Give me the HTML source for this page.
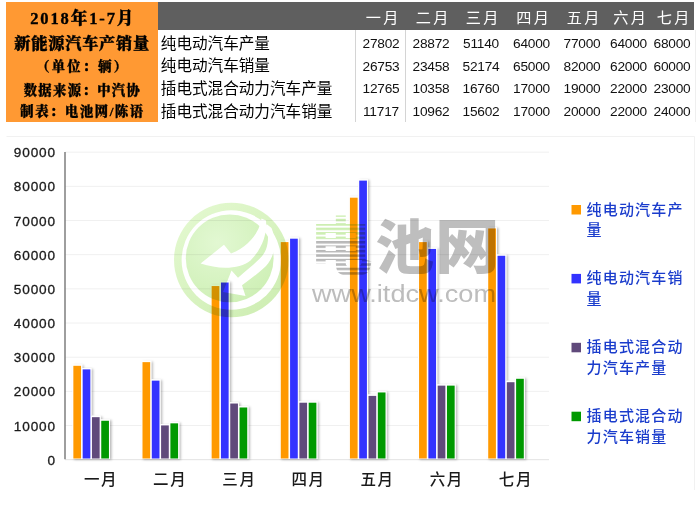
<!DOCTYPE html><html lang="zh"><head><meta charset="utf-8"><title>2018年1-7月新能源汽车产销量</title><style>
html,body{margin:0;padding:0;background:#fff;}
body{width:700px;height:507px;position:relative;overflow:hidden;font-family:"Liberation Sans","Noto Sans CJK SC",sans-serif;}
#ob{position:absolute;left:6px;top:2px;width:151.5px;height:119.5px;background:#FF9933;}
#ob div{position:absolute;left:0;width:100%;text-align:center;font-family:"Liberation Serif","Noto Serif CJK SC",serif;font-weight:900;color:#000;-webkit-text-stroke:0.35px #000;white-space:nowrap;}
#hd{position:absolute;left:157.5px;top:2px;width:536px;height:27.5px;background:#5F5F5F;}
.hm{position:absolute;top:8px;width:40px;margin-left:-20px;text-align:center;color:#fff;font-size:15.2px;letter-spacing:2.4px;text-indent:2.4px;line-height:20px;white-space:nowrap;}
.rn{position:absolute;left:160.8px;font-size:15.6px;line-height:22px;color:#000;white-space:nowrap;font-family:"Liberation Sans","Noto Sans CJK SC",sans-serif;font-weight:400;}
.nv{position:absolute;width:50px;margin-left:-25px;text-align:center;font-size:13.7px;letter-spacing:-0.2px;line-height:22px;color:#111;white-space:nowrap;}
.vl{position:absolute;top:29.5px;width:1px;height:92px;background:#d4d4d4;}
svg{position:absolute;left:0;top:0;}
</style></head><body>
<div id="ob">
<div style="top:6.5px;font-size:16.5px;line-height:20px;letter-spacing:1.9px;text-indent:1.9px;">2018年1-7月</div>
<div style="top:31.2px;font-size:16.2px;line-height:22px;letter-spacing:0.8px;text-indent:0.8px;">新能源汽车产销量</div>
<div style="top:56px;font-size:13.3px;line-height:18px;letter-spacing:2.2px;text-indent:2.2px;">（单位：辆）</div>
<div style="top:79.7px;font-size:13.3px;line-height:18px;letter-spacing:1.4px;text-indent:1.4px;">数据来源：中汽协</div>
<div style="top:101.2px;font-size:13.3px;line-height:18px;letter-spacing:1.6px;text-indent:1.6px;">制表：电池网/陈语</div>
</div>
<div id="hd"></div>
<div class="hm" style="left:382.2px">一月</div>
<div class="hm" style="left:432.2px">二月</div>
<div class="hm" style="left:482.2px">三月</div>
<div class="hm" style="left:532.7px">四月</div>
<div class="hm" style="left:583.2px">五月</div>
<div class="hm" style="left:629.7px">六月</div>
<div class="hm" style="left:673.2px">七月</div>
<div class="rn" style="top:32.5px">纯电动汽车产量</div>
<div class="nv" style="left:381px;top:32.8px">27802</div>
<div class="nv" style="left:431px;top:32.8px">28872</div>
<div class="nv" style="left:481px;top:32.8px">51140</div>
<div class="nv" style="left:531.5px;top:32.8px">64000</div>
<div class="nv" style="left:582px;top:32.8px">77000</div>
<div class="nv" style="left:628.5px;top:32.8px">64000</div>
<div class="nv" style="left:672px;top:32.8px">68000</div>
<div class="rn" style="top:55.2px">纯电动汽车销量</div>
<div class="nv" style="left:381px;top:55.5px">26753</div>
<div class="nv" style="left:431px;top:55.5px">23458</div>
<div class="nv" style="left:481px;top:55.5px">52174</div>
<div class="nv" style="left:531.5px;top:55.5px">65000</div>
<div class="nv" style="left:582px;top:55.5px">82000</div>
<div class="nv" style="left:628.5px;top:55.5px">62000</div>
<div class="nv" style="left:672px;top:55.5px">60000</div>
<div class="rn" style="top:77.9px">插电式混合动力汽车产量</div>
<div class="nv" style="left:381px;top:78.2px">12765</div>
<div class="nv" style="left:431px;top:78.2px">10358</div>
<div class="nv" style="left:481px;top:78.2px">16760</div>
<div class="nv" style="left:531.5px;top:78.2px">17000</div>
<div class="nv" style="left:582px;top:78.2px">19000</div>
<div class="nv" style="left:628.5px;top:78.2px">22000</div>
<div class="nv" style="left:672px;top:78.2px">23000</div>
<div class="rn" style="top:100.6px">插电式混合动力汽车销量</div>
<div class="nv" style="left:381px;top:100.9px">11717</div>
<div class="nv" style="left:431px;top:100.9px">10962</div>
<div class="nv" style="left:481px;top:100.9px">15602</div>
<div class="nv" style="left:531.5px;top:100.9px">17000</div>
<div class="nv" style="left:582px;top:100.9px">20000</div>
<div class="nv" style="left:628.5px;top:100.9px">22000</div>
<div class="nv" style="left:672px;top:100.9px">24000</div>
<div class="vl" style="left:355px"></div><div class="vl" style="left:405px"></div><div class="vl" style="left:695px;background:#efefef"></div>
<svg width="700" height="507" viewBox="0 0 700 507">
<defs><filter id="sh" x="-50%" y="-10%" width="220%" height="120%"><feDropShadow dx="1.6" dy="0.8" stdDeviation="1.1" flood-color="#000" flood-opacity="0.28"/></filter><filter id="sb" x="-5%" y="-5%" width="110%" height="110%"><feGaussianBlur stdDeviation="0.45"/></filter><radialGradient id="lg" cx="0.36" cy="0.32" r="0.8"><stop offset="0" stop-color="#e2f8d2"/><stop offset="1" stop-color="#cdefb4"/></radialGradient><linearGradient id="rg" x1="0.15" y1="0.1" x2="0.85" y2="0.9"><stop offset="0" stop-color="#e2f8ce"/><stop offset="1" stop-color="#cfeeb4"/></linearGradient><pattern id="stp" x="0" y="214.3" width="10" height="4.45" patternUnits="userSpaceOnUse"><rect x="0" y="0" width="10" height="2.5" fill="#fff"/></pattern><linearGradient id="eg" gradientUnits="userSpaceOnUse" x1="0" y1="214" x2="0" y2="274"><stop offset="0" stop-color="#cdeeb2"/><stop offset="0.44" stop-color="#cdeeb2"/><stop offset="0.45" stop-color="#b8b8b8"/><stop offset="1" stop-color="#b8b8b8"/></linearGradient><mask id="stm" maskUnits="userSpaceOnUse" x="300" y="200" width="90" height="90"><rect x="300" y="200" width="90" height="90" fill="url(#stp)"/></mask></defs>
<path d="M6.5 136.5H694.5V490" fill="none" stroke="#f1f1f1" stroke-width="1"/>
<line x1="65.0" x2="549.0" y1="425.53" y2="425.53" stroke="#f0f0f0" stroke-width="1"/>
<line x1="65.0" x2="549.0" y1="391.36" y2="391.36" stroke="#f0f0f0" stroke-width="1"/>
<line x1="65.0" x2="549.0" y1="357.19" y2="357.19" stroke="#f0f0f0" stroke-width="1"/>
<line x1="65.0" x2="549.0" y1="323.02" y2="323.02" stroke="#f0f0f0" stroke-width="1"/>
<line x1="65.0" x2="549.0" y1="288.85" y2="288.85" stroke="#f0f0f0" stroke-width="1"/>
<line x1="65.0" x2="549.0" y1="254.68" y2="254.68" stroke="#f0f0f0" stroke-width="1"/>
<line x1="65.0" x2="549.0" y1="220.51" y2="220.51" stroke="#f0f0f0" stroke-width="1"/>
<line x1="65.0" x2="549.0" y1="186.34" y2="186.34" stroke="#f0f0f0" stroke-width="1"/>
<line x1="65.0" x2="549.0" y1="152.17" y2="152.17" stroke="#f0f0f0" stroke-width="1"/>
<line x1="65.0" x2="549.0" y1="459.7" y2="459.7" stroke="#e2e2e2" stroke-width="1"/>
<line x1="65.0" x2="65.0" y1="152" y2="459.2" stroke="#757575" stroke-width="1.4"/>
<text x="55.9" y="464.70" text-anchor="end" font-size="13.6" letter-spacing="0.85" fill="#1a1a1a" stroke="#1a1a1a" stroke-width="0.3" font-family="Liberation Sans, sans-serif">0</text>
<text x="55.9" y="430.53" text-anchor="end" font-size="13.6" letter-spacing="0.85" fill="#1a1a1a" stroke="#1a1a1a" stroke-width="0.3" font-family="Liberation Sans, sans-serif">10000</text>
<text x="55.9" y="396.36" text-anchor="end" font-size="13.6" letter-spacing="0.85" fill="#1a1a1a" stroke="#1a1a1a" stroke-width="0.3" font-family="Liberation Sans, sans-serif">20000</text>
<text x="55.9" y="362.19" text-anchor="end" font-size="13.6" letter-spacing="0.85" fill="#1a1a1a" stroke="#1a1a1a" stroke-width="0.3" font-family="Liberation Sans, sans-serif">30000</text>
<text x="55.9" y="328.02" text-anchor="end" font-size="13.6" letter-spacing="0.85" fill="#1a1a1a" stroke="#1a1a1a" stroke-width="0.3" font-family="Liberation Sans, sans-serif">40000</text>
<text x="55.9" y="293.85" text-anchor="end" font-size="13.6" letter-spacing="0.85" fill="#1a1a1a" stroke="#1a1a1a" stroke-width="0.3" font-family="Liberation Sans, sans-serif">50000</text>
<text x="55.9" y="259.68" text-anchor="end" font-size="13.6" letter-spacing="0.85" fill="#1a1a1a" stroke="#1a1a1a" stroke-width="0.3" font-family="Liberation Sans, sans-serif">60000</text>
<text x="55.9" y="225.51" text-anchor="end" font-size="13.6" letter-spacing="0.85" fill="#1a1a1a" stroke="#1a1a1a" stroke-width="0.3" font-family="Liberation Sans, sans-serif">70000</text>
<text x="55.9" y="191.34" text-anchor="end" font-size="13.6" letter-spacing="0.85" fill="#1a1a1a" stroke="#1a1a1a" stroke-width="0.3" font-family="Liberation Sans, sans-serif">80000</text>
<text x="55.9" y="157.17" text-anchor="end" font-size="13.6" letter-spacing="0.85" fill="#1a1a1a" stroke="#1a1a1a" stroke-width="0.3" font-family="Liberation Sans, sans-serif">90000</text>
<g filter="url(#sh)">
<rect x="72.30" y="364.50" width="9.80" height="94.50" fill="#fff"/>
<rect x="81.60" y="368.08" width="9.80" height="90.92" fill="#fff"/>
<rect x="90.90" y="415.88" width="9.80" height="43.12" fill="#fff"/>
<rect x="100.20" y="419.46" width="9.80" height="39.54" fill="#fff"/>
<rect x="141.44" y="360.84" width="9.80" height="98.16" fill="#fff"/>
<rect x="150.74" y="379.34" width="9.80" height="79.66" fill="#fff"/>
<rect x="160.04" y="424.11" width="9.80" height="34.89" fill="#fff"/>
<rect x="169.34" y="422.04" width="9.80" height="36.96" fill="#fff"/>
<rect x="210.59" y="284.75" width="9.80" height="174.25" fill="#fff"/>
<rect x="219.89" y="281.22" width="9.80" height="177.78" fill="#fff"/>
<rect x="229.19" y="402.23" width="9.80" height="56.77" fill="#fff"/>
<rect x="238.49" y="406.19" width="9.80" height="52.81" fill="#fff"/>
<rect x="279.73" y="240.81" width="9.80" height="218.19" fill="#fff"/>
<rect x="289.03" y="237.39" width="9.80" height="221.61" fill="#fff"/>
<rect x="298.33" y="401.41" width="9.80" height="57.59" fill="#fff"/>
<rect x="307.63" y="401.41" width="9.80" height="57.59" fill="#fff"/>
<rect x="348.87" y="196.39" width="9.80" height="262.61" fill="#fff"/>
<rect x="358.17" y="179.31" width="9.80" height="279.69" fill="#fff"/>
<rect x="367.47" y="394.58" width="9.80" height="64.42" fill="#fff"/>
<rect x="376.77" y="391.16" width="9.80" height="67.84" fill="#fff"/>
<rect x="418.01" y="240.81" width="9.80" height="218.19" fill="#fff"/>
<rect x="427.31" y="247.65" width="9.80" height="211.35" fill="#fff"/>
<rect x="436.61" y="384.33" width="9.80" height="74.67" fill="#fff"/>
<rect x="445.91" y="384.33" width="9.80" height="74.67" fill="#fff"/>
<rect x="487.16" y="227.14" width="9.80" height="231.86" fill="#fff"/>
<rect x="496.46" y="254.48" width="9.80" height="204.52" fill="#fff"/>
<rect x="505.76" y="380.91" width="9.80" height="78.09" fill="#fff"/>
<rect x="515.06" y="377.49" width="9.80" height="81.51" fill="#fff"/>
</g>
<rect x="73.35" y="365.80" width="7.7" height="92.70" fill="#FF9900"/>
<rect x="82.65" y="369.38" width="7.7" height="89.12" fill="#3333FF"/>
<rect x="91.95" y="417.18" width="7.7" height="41.32" fill="#604A7B"/>
<rect x="101.25" y="420.76" width="7.7" height="37.74" fill="#009900"/>
<rect x="142.49" y="362.14" width="7.7" height="96.36" fill="#FF9900"/>
<rect x="151.79" y="380.64" width="7.7" height="77.86" fill="#3333FF"/>
<rect x="161.09" y="425.41" width="7.7" height="33.09" fill="#604A7B"/>
<rect x="170.39" y="423.34" width="7.7" height="35.16" fill="#009900"/>
<rect x="211.64" y="286.05" width="7.7" height="172.45" fill="#FF9900"/>
<rect x="220.94" y="282.52" width="7.7" height="175.98" fill="#3333FF"/>
<rect x="230.24" y="403.53" width="7.7" height="54.97" fill="#604A7B"/>
<rect x="239.54" y="407.49" width="7.7" height="51.01" fill="#009900"/>
<rect x="280.78" y="242.11" width="7.7" height="216.39" fill="#FF9900"/>
<rect x="290.08" y="238.69" width="7.7" height="219.81" fill="#3333FF"/>
<rect x="299.38" y="402.71" width="7.7" height="55.79" fill="#604A7B"/>
<rect x="308.68" y="402.71" width="7.7" height="55.79" fill="#009900"/>
<rect x="349.92" y="197.69" width="7.7" height="260.81" fill="#FF9900"/>
<rect x="359.22" y="180.61" width="7.7" height="277.89" fill="#3333FF"/>
<rect x="368.52" y="395.88" width="7.7" height="62.62" fill="#604A7B"/>
<rect x="377.82" y="392.46" width="7.7" height="66.04" fill="#009900"/>
<rect x="419.06" y="242.11" width="7.7" height="216.39" fill="#FF9900"/>
<rect x="428.36" y="248.95" width="7.7" height="209.55" fill="#3333FF"/>
<rect x="437.66" y="385.63" width="7.7" height="72.87" fill="#604A7B"/>
<rect x="446.96" y="385.63" width="7.7" height="72.87" fill="#009900"/>
<rect x="488.21" y="228.44" width="7.7" height="230.06" fill="#FF9900"/>
<rect x="497.51" y="255.78" width="7.7" height="202.72" fill="#3333FF"/>
<rect x="506.81" y="382.21" width="7.7" height="76.29" fill="#604A7B"/>
<rect x="516.11" y="378.79" width="7.7" height="79.71" fill="#009900"/>
<text x="84.0" y="485" font-size="15.5" font-weight="500" letter-spacing="1.6" fill="#1a1a1a" font-family="Liberation Sans, Noto Sans CJK SC, sans-serif">一月</text>
<text x="153.1" y="485" font-size="15.5" font-weight="500" letter-spacing="1.6" fill="#1a1a1a" font-family="Liberation Sans, Noto Sans CJK SC, sans-serif">二月</text>
<text x="222.3" y="485" font-size="15.5" font-weight="500" letter-spacing="1.6" fill="#1a1a1a" font-family="Liberation Sans, Noto Sans CJK SC, sans-serif">三月</text>
<text x="291.4" y="485" font-size="15.5" font-weight="500" letter-spacing="1.6" fill="#1a1a1a" font-family="Liberation Sans, Noto Sans CJK SC, sans-serif">四月</text>
<text x="360.5" y="485" font-size="15.5" font-weight="500" letter-spacing="1.6" fill="#1a1a1a" font-family="Liberation Sans, Noto Sans CJK SC, sans-serif">五月</text>
<text x="429.7" y="485" font-size="15.5" font-weight="500" letter-spacing="1.6" fill="#1a1a1a" font-family="Liberation Sans, Noto Sans CJK SC, sans-serif">六月</text>
<text x="498.8" y="485" font-size="15.5" font-weight="500" letter-spacing="1.6" fill="#1a1a1a" font-family="Liberation Sans, Noto Sans CJK SC, sans-serif">七月</text>
<rect x="571.5" y="205.0" width="9.5" height="9.5" fill="#FF9900"/>
<text x="586.5" y="214.5" font-size="15" font-weight="500" letter-spacing="1.2" fill="#1a3ccc" font-family="Liberation Sans, Noto Sans CJK SC, sans-serif">纯电动汽车产</text>
<text x="586.5" y="235.0" font-size="15" font-weight="500" letter-spacing="1.2" fill="#1a3ccc" font-family="Liberation Sans, Noto Sans CJK SC, sans-serif">量</text>
<rect x="571.5" y="273.9" width="9.5" height="9.5" fill="#3333FF"/>
<text x="586.5" y="283.4" font-size="15" font-weight="500" letter-spacing="1.2" fill="#1a3ccc" font-family="Liberation Sans, Noto Sans CJK SC, sans-serif">纯电动汽车销</text>
<text x="586.5" y="303.9" font-size="15" font-weight="500" letter-spacing="1.2" fill="#1a3ccc" font-family="Liberation Sans, Noto Sans CJK SC, sans-serif">量</text>
<rect x="571.5" y="342.8" width="9.5" height="9.5" fill="#604A7B"/>
<text x="586.5" y="352.3" font-size="15" font-weight="500" letter-spacing="1.2" fill="#1a3ccc" font-family="Liberation Sans, Noto Sans CJK SC, sans-serif">插电式混合动</text>
<text x="586.5" y="372.8" font-size="15" font-weight="500" letter-spacing="1.2" fill="#1a3ccc" font-family="Liberation Sans, Noto Sans CJK SC, sans-serif">力汽车产量</text>
<rect x="571.5" y="411.7" width="9.5" height="9.5" fill="#009900"/>
<text x="586.5" y="421.2" font-size="15" font-weight="500" letter-spacing="1.2" fill="#1a3ccc" font-family="Liberation Sans, Noto Sans CJK SC, sans-serif">插电式混合动</text>
<text x="586.5" y="441.7" font-size="15" font-weight="500" letter-spacing="1.2" fill="#1a3ccc" font-family="Liberation Sans, Noto Sans CJK SC, sans-serif">力汽车销量</text>
<g style="mix-blend-mode:multiply" filter="url(#sb)">
<circle cx="231.3" cy="260" r="57.3" fill="url(#rg)"/>
<circle cx="231.3" cy="260" r="49.7" fill="#fff"/>
<circle cx="229.7" cy="258.4" r="43.9" fill="url(#lg)"/>
<path d="M261.5 218.5 C259.5 232 249.5 246 231 253.5 L224 244.7 L200.6 263.6 C220 270 240 269 250.5 260.5 C259 252 267.5 238 266 220.5 Z" fill="#fff"/>
<path d="M266.5 224 C270 240 267.5 252 258.8 259.5 C252 266 246 271 238 277.7 L231.5 270.6 L223 292 L245.5 296 L242 285.2 C250 279 259 273 266 266 C272.5 259 278.5 245 271.5 228 Z" fill="#fff"/>
</g>
<g style="mix-blend-mode:multiply">
<g mask="url(#stm)">
<text x="309.7" y="268.5" font-size="62.8" font-weight="900" fill="url(#eg)" font-family="Liberation Sans, Noto Sans CJK SC, sans-serif">电</text>
</g>
<text x="375.6" y="268.7" font-size="58.8" font-weight="900" fill="#bebebe" font-family="Liberation Sans, Noto Sans CJK SC, sans-serif">池</text>
<text transform="translate(435.1 267.5) scale(1.1 1)" x="0" y="0" font-size="58.7" font-weight="900" fill="#bebebe" font-family="Liberation Sans, Noto Sans CJK SC, sans-serif">网</text>
<text x="312" y="302" font-size="23" fill="#bdbdbd" textLength="184" lengthAdjust="spacingAndGlyphs" font-family="Liberation Sans, sans-serif">www.itdcw.com</text>
</g>
</svg>
</body></html>
